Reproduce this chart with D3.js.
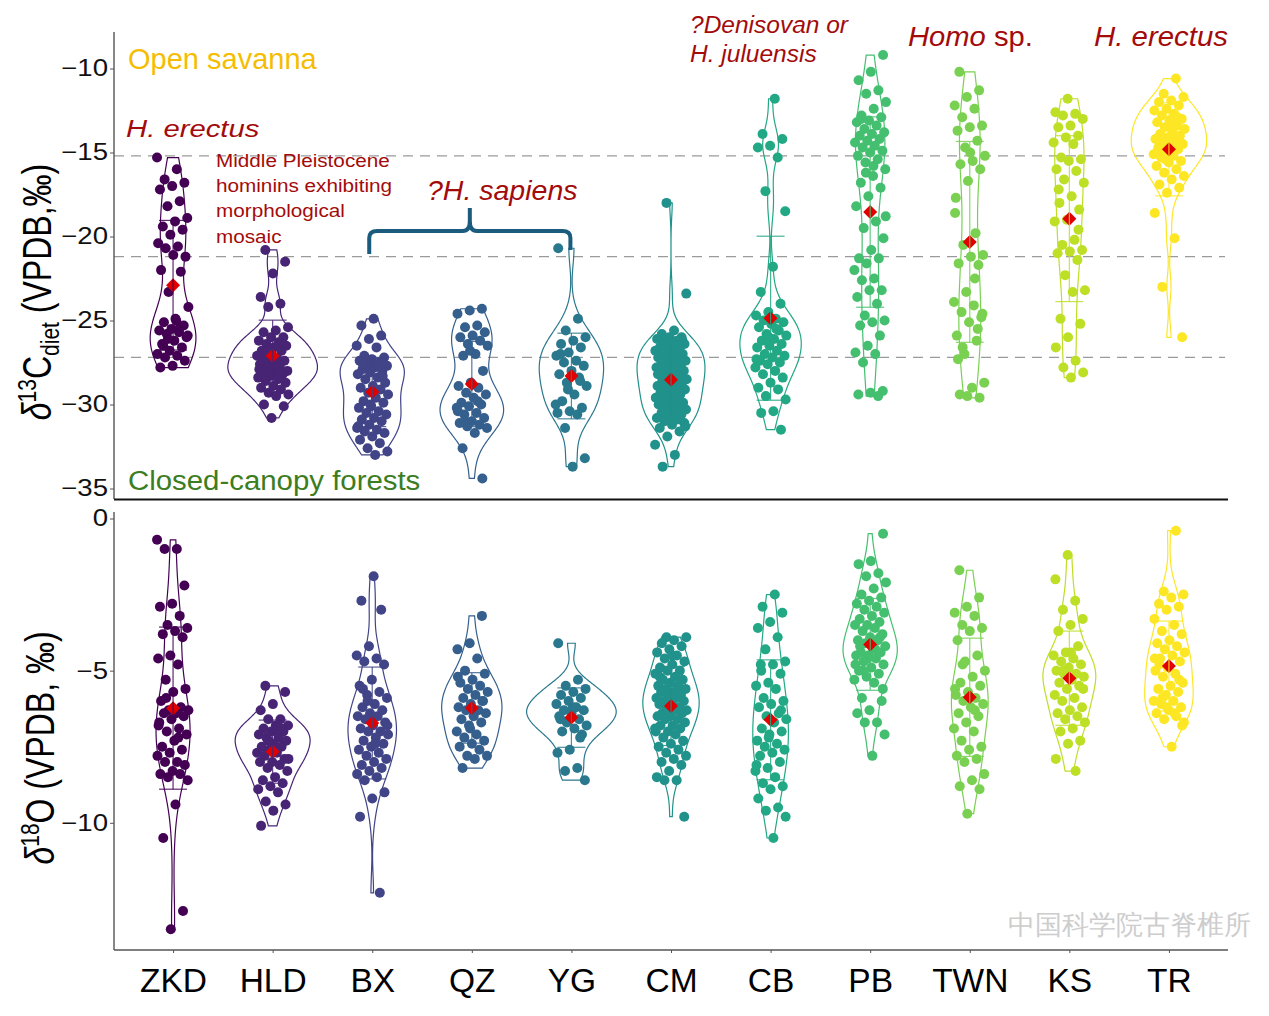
<!DOCTYPE html>
<html>
<head>
<meta charset="utf-8">
<script src="https://cdn.jsdelivr.net/npm/d3@7"></script>
<style>
  body { margin: 0; background: #fff; }
  text { font-family: "Liberation Sans", Arial, sans-serif; }
</style>
</head>
<body>
<svg id="chart" width="1269" height="1016"></svg>
<script>
const sites = ["ZKD", "HLD", "BX", "QZ", "YG", "CM", "CB", "PB", "TWN", "KS", "TR"];

// d13C diet values (per mil)
const c13ZKD = [-15.3,-16.0,-16.6,-16.8,-17.0,-17.2,-17.9,-18.2,-18.9,-19.1,-19.4,-19.6,-19.9,-20.4,-20.6,-20.7,-21.2,-21.1,-22.0,-22.1,-23.3,-24.2,-25.0,-25.1,-25.3,-25.5,-25.6,-25.7,-25.8,-26.0,-26.2,-26.4,-26.6,-26.8,-27.0,-27.1,-27.2,-27.4,-27.7,-27.8,-25.4,-26.1,-25.9,-24.9,-26.5];
const c13HLD = [-20.8,-21.5,-22.2,-23.6,-24.0,-24.2,-25.4,-25.6,-25.7,-26.0,-26.0,-26.2,-26.3,-26.4,-26.5,-26.6,-26.8,-26.8,-27.0,-27.1,-27.2,-27.3,-27.4,-27.5,-27.6,-27.7,-27.8,-28.0,-28.0,-28.1,-28.2,-28.3,-28.4,-28.5,-28.6,-28.7,-28.9,-29.0,-29.1,-29.3,-29.4,-29.5,-30.0,-30.1,-30.8,-27.9,-28.1,-26.9];
const c13BX = [-24.9,-25.3,-25.9,-26.1,-26.5,-26.6,-27.1,-27.2,-27.3,-27.4,-27.5,-27.6,-27.7,-27.8,-27.9,-28.0,-28.1,-28.2,-28.4,-28.5,-28.7,-28.9,-29.0,-29.1,-29.3,-29.4,-29.6,-29.8,-29.9,-30.1,-30.2,-30.4,-30.5,-30.6,-30.8,-30.9,-31.0,-31.2,-31.4,-31.5,-31.6,-31.7,-31.9,-32.1,-32.3,-32.6,-32.8,-33.0,-27.6,-28.3,-30.0,-31.3];
const c13QZ = [-24.3,-24.4,-24.6,-25.3,-25.4,-25.7,-25.9,-26.0,-26.2,-26.4,-26.5,-27.0,-27.1,-28.0,-28.7,-28.9,-29.0,-29.3,-29.4,-29.6,-29.9,-30.0,-30.1,-30.2,-30.5,-30.6,-30.8,-31.0,-31.1,-31.2,-31.3,-31.4,-31.7,-32.6,-34.4,-26.8,-30.4,-29.8,-31.0];
const c13YG = [-20.7,-24.9,-25.6,-26.0,-26.2,-26.4,-26.6,-26.9,-27.1,-27.4,-27.5,-27.7,-28.0,-28.2,-28.4,-28.7,-28.9,-29.4,-29.8,-30.2,-30.4,-30.5,-30.6,-31.4,-33.2,-33.7,-27.0,-28.6,-29.1,-30.0];
const c13CM = [-18.0,-23.4,-25.6,-25.8,-26.0,-26.0,-26.1,-26.2,-26.3,-26.4,-26.5,-26.6,-26.6,-26.7,-26.8,-26.9,-27.0,-27.0,-27.1,-27.2,-27.3,-27.3,-27.4,-27.5,-27.6,-27.7,-27.7,-27.8,-27.9,-28.0,-28.0,-28.1,-28.2,-28.3,-28.4,-28.5,-28.5,-28.6,-28.7,-28.8,-28.9,-29.0,-29.0,-29.1,-29.2,-29.3,-29.4,-29.5,-29.6,-29.7,-29.8,-29.9,-30.0,-30.0,-30.1,-30.2,-30.3,-30.4,-30.5,-30.6,-30.7,-30.8,-30.9,-31.0,-31.1,-31.2,-31.4,-31.6,-31.9,-32.4,-33.0,-33.7,-26.2,-27.5,-28.2,-29.3,-30.4,-31.3];
const c13CB = [-11.8,-13.9,-14.2,-14.6,-14.7,-15.3,-17.3,-18.5,-21.8,-23.3,-24.0,-24.5,-24.7,-24.9,-25.0,-25.1,-25.2,-25.4,-25.6,-25.8,-25.9,-26.1,-26.2,-26.4,-26.5,-26.6,-26.8,-27.0,-27.1,-27.2,-27.4,-27.5,-27.6,-27.8,-28.0,-28.2,-28.4,-28.7,-29.0,-29.1,-29.5,-29.7,-30.4,-30.5,-31.5,-26.0,-27.3,-25.5];
const c13PB = [-9.2,-10.2,-10.7,-11.3,-11.5,-12.0,-12.4,-12.8,-12.9,-13.1,-13.2,-13.4,-13.6,-13.8,-13.9,-14.0,-14.2,-14.3,-14.4,-14.6,-14.7,-14.9,-15.0,-15.2,-15.4,-15.6,-16.0,-16.4,-16.8,-17.1,-17.6,-18.2,-19.1,-19.5,-20.1,-20.8,-21.3,-21.3,-21.6,-22.0,-22.5,-22.6,-23.2,-23.2,-23.6,-24.0,-24.7,-25.0,-25.1,-25.3,-25.9,-26.5,-26.9,-27.0,-27.5,-29.2,-29.3,-29.4,-29.5,-16.2,-18.8,-15.8,-13.0];
const c13TWN = [-10.2,-11.3,-11.7,-12.2,-12.4,-12.9,-13.4,-13.5,-13.7,-14.3,-14.7,-15.2,-15.5,-15.7,-16.0,-16.7,-17.7,-19.8,-20.5,-21.1,-21.2,-21.6,-21.7,-23.3,-23.9,-24.1,-24.5,-24.8,-25.1,-25.9,-26.2,-27.0,-28.7,-29.0,-29.4,-29.6,-29.5,-18.6,-22.5,-26.6,-24.6,-15.0,-27.3,-25.5];
const c13KS = [-11.8,-12.6,-12.7,-12.8,-13.0,-13.4,-13.5,-14.0,-14.1,-14.4,-14.5,-15.3,-15.4,-15.5,-16.0,-16.1,-16.6,-16.8,-17.6,-18.0,-18.4,-19.0,-19.1,-20.2,-20.5,-20.8,-20.9,-21.0,-21.4,-22.3,-23.2,-23.3,-24.9,-25.2,-26.0,-26.6,-27.4,-27.8,-28.1,-28.4,-17.2,-19.6];
const c13TR = [-10.6,-11.5,-11.7,-11.9,-12.0,-12.2,-12.4,-12.5,-12.7,-12.8,-13.0,-13.1,-13.2,-13.4,-13.5,-13.6,-13.8,-13.9,-14.0,-14.1,-14.2,-14.3,-14.4,-14.5,-14.6,-14.7,-14.8,-15.0,-15.1,-15.2,-15.3,-15.5,-15.6,-15.8,-16.0,-16.2,-16.4,-16.6,-16.9,-17.1,-17.4,-18.6,-20.1,-23.0,-26.0,-13.3,-14.9,-12.9,-15.4];

// d18O values (per mil)
const o18ZKD = [-0.7,-1.0,-1.0,-2.2,-2.8,-2.9,-3.2,-3.5,-3.6,-3.7,-3.8,-3.9,-4.5,-4.6,-4.8,-5.3,-5.6,-5.7,-6.0,-6.2,-6.3,-6.3,-6.4,-6.4,-6.5,-6.6,-6.7,-6.9,-7.0,-7.1,-7.3,-7.5,-7.6,-7.7,-7.8,-8.0,-8.0,-8.1,-8.3,-8.4,-8.4,-8.5,-8.6,-9.4,-10.5,-12.9,-13.5,-6.8,-7.2,-5.9];
const o18HLD = [-5.5,-5.7,-6.1,-6.3,-6.6,-6.6,-6.8,-6.8,-6.9,-7.0,-7.0,-7.1,-7.2,-7.2,-7.3,-7.4,-7.5,-7.5,-7.6,-7.7,-7.7,-7.8,-7.9,-8.0,-8.0,-8.1,-8.2,-8.3,-8.5,-8.6,-8.7,-8.8,-8.9,-9.0,-9.3,-9.4,-9.6,-10.1,-6.9,-7.3,-7.9,-7.0];
const o18BX = [-1.9,-2.7,-3.0,-4.2,-4.5,-4.6,-4.7,-4.8,-5.3,-5.5,-5.7,-5.8,-5.9,-6.1,-6.2,-6.3,-6.4,-6.5,-6.5,-6.6,-6.7,-6.8,-6.9,-7.0,-7.0,-7.1,-7.2,-7.3,-7.4,-7.5,-7.6,-7.7,-7.8,-7.9,-8.0,-8.1,-8.2,-8.3,-8.4,-8.5,-8.6,-9.0,-9.2,-9.8,-12.3,-6.0,-6.8,-7.4,-5.6];
const o18QZ = [-3.2,-4.1,-4.3,-4.6,-5.0,-5.1,-5.3,-5.4,-5.5,-5.6,-5.7,-5.8,-5.9,-6.0,-6.1,-6.2,-6.3,-6.3,-6.4,-6.5,-6.6,-6.7,-6.8,-7.0,-7.1,-7.2,-7.3,-7.4,-7.5,-7.6,-7.8,-7.8,-7.9,-8.2,-6.0,-6.9,-5.2];
const o18YG = [-4.1,-5.3,-5.5,-5.6,-5.7,-5.8,-5.9,-6.0,-6.1,-6.2,-6.3,-6.3,-6.4,-6.5,-6.6,-6.7,-6.8,-6.9,-7.0,-7.1,-7.6,-7.7,-8.2,-8.3,-8.6,-6.2,-6.6,-7.2];
const o18CM = [-3.9,-3.9,-4.0,-4.1,-4.2,-4.3,-4.4,-4.5,-4.6,-4.7,-4.8,-4.9,-5.0,-5.0,-5.1,-5.2,-5.3,-5.3,-5.4,-5.5,-5.5,-5.6,-5.6,-5.7,-5.7,-5.8,-5.8,-5.9,-5.9,-6.0,-6.0,-6.1,-6.1,-6.2,-6.2,-6.3,-6.3,-6.4,-6.4,-6.5,-6.5,-6.6,-6.6,-6.7,-6.8,-6.8,-6.9,-7.0,-7.0,-7.1,-7.2,-7.3,-7.4,-7.5,-7.6,-7.7,-7.8,-7.9,-8.0,-8.1,-8.3,-8.5,-8.6,-8.6,-9.8,-4.5,-5.2,-5.8,-6.3,-6.9];
const o18CB = [-2.5,-2.9,-3.1,-3.4,-3.6,-3.9,-4.3,-4.7,-4.8,-4.8,-5.1,-5.4,-5.5,-5.6,-5.9,-6.0,-6.1,-6.2,-6.4,-6.5,-6.6,-6.7,-6.9,-7.0,-7.1,-7.3,-7.4,-7.5,-7.6,-7.7,-7.8,-8.0,-8.2,-8.3,-8.5,-8.7,-8.8,-8.9,-9.2,-9.5,-9.6,-9.8,-10.5,-5.0,-6.3,-7.2,-8.1];
const o18PB = [-0.5,-1.4,-1.5,-1.8,-1.9,-2.1,-2.3,-2.5,-2.6,-2.7,-2.8,-2.9,-3.0,-3.1,-3.2,-3.3,-3.4,-3.5,-3.5,-3.6,-3.7,-3.8,-3.9,-4.0,-4.0,-4.1,-4.2,-4.3,-4.4,-4.4,-4.5,-4.5,-4.6,-4.7,-4.8,-4.9,-5.0,-5.1,-5.2,-5.3,-5.4,-5.9,-6.0,-6.3,-6.4,-6.7,-6.7,-7.1,-7.8,-4.2,-3.9,-4.6,-4.8,-4.3,-5.0,-5.6];
const o18TWN = [-1.7,-2.6,-2.9,-3.1,-3.2,-3.5,-3.6,-3.7,-4.0,-4.5,-4.7,-5.0,-5.2,-5.4,-5.5,-5.7,-5.8,-5.9,-6.0,-6.1,-6.2,-6.4,-6.5,-6.7,-6.9,-7.0,-7.3,-7.5,-7.6,-7.8,-7.9,-8.0,-8.4,-8.6,-8.8,-8.9,-9.7,-5.6,-6.3,-4.8];
const o18KS = [-1.2,-2.0,-2.7,-3.0,-3.3,-3.5,-3.7,-4.2,-4.4,-4.5,-4.6,-4.7,-4.8,-4.9,-5.0,-5.1,-5.1,-5.2,-5.3,-5.4,-5.5,-5.6,-5.8,-5.9,-6.0,-6.2,-6.3,-6.4,-6.5,-6.6,-6.7,-6.9,-7.0,-7.3,-7.4,-7.9,-8.3,-5.0,-5.6,-4.4];
const o18TR = [-0.4,-2.4,-2.5,-2.6,-2.8,-2.9,-3.0,-3.3,-3.5,-3.7,-3.8,-4.0,-4.1,-4.2,-4.3,-4.4,-4.5,-4.6,-4.7,-4.9,-5.0,-5.1,-5.2,-5.4,-5.5,-5.6,-5.7,-5.8,-6.0,-6.0,-6.1,-6.2,-6.3,-6.4,-6.5,-6.6,-6.7,-7.5,-4.8,-5.3,-6.2,-4.6,-6.4,-5.9,-6.8];

const carbon = [c13ZKD, c13HLD, c13BX, c13QZ, c13YG, c13CM, c13CB, c13PB, c13TWN, c13KS, c13TR];
const oxygen = [o18ZKD, o18HLD, o18BX, o18QZ, o18YG, o18CM, o18CB, o18PB, o18TWN, o18KS, o18TR];

const carbonTicks = [-10, -15, -20, -25, -30, -35];
const oxygenTicks = [0, -5, -10];
const habitatLines = [-15.2, -21.2, -27.2];

const svg = d3.select("#chart");
const RED = "#a30b0b";

const x = d3.scalePoint().domain(sites).range([114, 1228]).padding(0.593);
const color = d3.scaleOrdinal()
  .domain(sites)
  .range(sites.map((s, i) => d3.interpolateViridis(i / (sites.length - 1))));

const yTop = d3.scaleLinear().domain([-10, -35]).range([68.5, 488.5]);
const yBot = d3.scaleLinear().domain([0, -10]).range([518.5, 822.8]);

// deterministic horizontal jitter
const jit = (i, k) => ((((i * 0.6180339887) + k * 0.2718) % 1) - 0.5) * 2 * 16;

function bwNrd0(v) {
  const s = d3.deviation(v);
  const q = (d3.quantile(v, 0.75) - d3.quantile(v, 0.25)) / 1.34;
  return 0.9 * Math.min(s, q) * Math.pow(v.length, -0.2);
}

function density(v) {
  const bw = bwNrd0(v);
  const [lo, hi] = d3.extent(v);
  return d3.range(0, 121).map(i => {
    const t = lo + (hi - lo) * i / 120;
    const d = d3.mean(v, a => Math.exp(-0.5 * ((t - a) / bw) ** 2)) / (bw * Math.sqrt(2 * Math.PI));
    return [t, d];
  });
}

function drawPanel(series, y) {
  const dens = series.map(density);
  const maxD = d3.max(dens, d => d3.max(d, p => p[1]));
  const w = d3.scaleLinear().domain([0, maxD]).range([0, 0.45 * x.step()]);
  const g = svg.append("g");

  series.forEach((vals, k) => {
    const site = sites[k];
    const cx = x(site);
    const col = color(site);

    g.append("path")
      .datum(dens[k])
      .attr("d", d3.area()
        .x0(p => cx - w(p[1]))
        .x1(p => cx + w(p[1]))
        .y(p => y(p[0]))
        .curve(d3.curveBasis))
      .attr("fill", "none")
      .attr("stroke", col)
      .attr("stroke-width", 1.2);

    g.append("g").selectAll("circle")
      .data(vals)
      .join("circle")
      .attr("cx", (v, i) => cx + jit(i, k))
      .attr("cy", v => y(v))
      .attr("r", 5)
      .attr("fill", col);

    const m = d3.mean(vals), s = d3.deviation(vals);
    g.append("path")
      .attr("d", `M${cx - 7},${y(m)}L${cx},${y(m) - 7}L${cx + 7},${y(m)}L${cx},${y(m) + 7}Z`)
      .attr("fill", "#e00000");

    const eb = g.append("g").attr("stroke", col).attr("stroke-width", 1.2).attr("stroke-opacity", 0.85);
    eb.append("line").attr("x1", cx).attr("x2", cx).attr("y1", y(m + s)).attr("y2", y(m - s));
    [m + s, m - s].forEach(v => {
      eb.append("line").attr("x1", cx - 14).attr("x2", cx + 14).attr("y1", y(v)).attr("y2", y(v));
    });
  });
}

// dashed habitat boundaries (upper panel)
svg.append("g").selectAll("line")
  .data(habitatLines)
  .join("line")
  .attr("x1", 114).attr("x2", 1225)
  .attr("y1", d => yTop(d)).attr("y2", d => yTop(d))
  .attr("stroke", "#9a9a9a")
  .attr("stroke-width", 1.3)
  .attr("stroke-dasharray", "10,7");

drawPanel(carbon, yTop);
drawPanel(oxygen, yBot);

// axes
const SX = 1.2;
function yAxis(scale, ticks, x0, yTopPx, yBotPx) {
  const g = svg.append("g").attr("transform", `translate(${x0},0)`)
    .call(d3.axisLeft(scale).tickValues(ticks).tickSize(4).tickFormat(d3.format("d")));
  g.select(".domain").remove();
  g.selectAll(".tick line").attr("stroke", "#555");
  g.selectAll(".tick text")
    .attr("font-size", 23)
    .attr("font-family", "Liberation Sans, Arial, sans-serif")
    .attr("fill", "#111")
    .attr("x", -6 / SX)
    .attr("transform", `scale(${SX},1)`);
  svg.append("line").attr("x1", x0).attr("x2", x0).attr("y1", yTopPx).attr("y2", yBotPx)
    .attr("stroke", "#555").attr("stroke-width", 1.4);
}
yAxis(yTop, carbonTicks, 114, 32, 499);
yAxis(yBot, oxygenTicks, 114, 512, 950);

svg.append("line").attr("x1", 114).attr("x2", 1228).attr("y1", 499.5).attr("y2", 499.5)
  .attr("stroke", "#111").attr("stroke-width", 1.8);

const xg = svg.append("g").attr("transform", "translate(0,950)")
  .call(d3.axisBottom(x).tickSize(3));
xg.select(".domain").remove();
xg.selectAll(".tick line").attr("stroke", "#555");
xg.selectAll(".tick text")
  .attr("font-size", 33.5)
  .attr("font-family", "Liberation Sans, Arial, sans-serif")
  .attr("fill", "#000")
  .attr("y", 18);
svg.append("line").attr("x1", 114).attr("x2", 1228).attr("y1", 950).attr("y2", 950)
  .attr("stroke", "#555").attr("stroke-width", 1.4);

// axis titles
const t1 = svg.append("text")
  .attr("transform", "translate(51,292) scale(1.25,1) rotate(-90)")
  .attr("text-anchor", "middle").attr("font-size", 32).attr("fill", "#000");
t1.append("tspan").attr("font-style", "italic").text("δ");
t1.append("tspan").attr("font-size", 21).attr("dy", -12).text("13");
t1.append("tspan").attr("dy", 12).text("C");
t1.append("tspan").attr("font-size", 21).attr("dy", 6).text("diet");
t1.append("tspan").attr("dy", -6).text(" (VPDB,‰)");

const t2 = svg.append("text")
  .attr("transform", "translate(54,748) scale(1.25,1) rotate(-90)")
  .attr("text-anchor", "middle").attr("font-size", 32).attr("fill", "#000");
t2.append("tspan").attr("font-style", "italic").text("δ");
t2.append("tspan").attr("font-size", 21).attr("dy", -12).text("18");
t2.append("tspan").attr("dy", 12).text("O (VPDB, ‰)");

// annotations
function label(str, x0, y0, size, fill, opts = {}) {
  const sx = opts.sx || 1;
  return svg.append("text")
    .attr("transform", `translate(${x0},${y0}) scale(${sx},1)`)
    .attr("font-size", size)
    .attr("font-style", opts.italic ? "italic" : "normal")
    .attr("fill", fill)
    .text(str);
}
label("Open savanna", 128, 69, 29, "#f5bd02");
label("Closed-canopy forests", 128, 490, 28, "#3c7d22", { sx: 1.05 });
label("H. erectus", 126, 137, 24, RED, { italic: true, sx: 1.22 });
["Middle Pleistocene", "hominins exhibiting", "morphological", "mosaic"].forEach((s, i) => {
  label(s, 216, 166.7 + i * 25.3, 18.5, RED, { sx: 1.12 });
});
label("?H. sapiens", 427, 200, 28.5, RED, { italic: true });
label("?Denisovan or", 690, 33, 24.5, RED, { italic: true });
label("H. juluensis", 690, 62, 24.5, RED, { italic: true });
const homo = label("", 908, 46, 27, RED, { sx: 1.08 });
homo.append("tspan").attr("font-style", "italic").text("Homo");
homo.append("tspan").text(" sp.");
label("H. erectus", 1094, 46, 27, RED, { italic: true, sx: 1.09 });

// brace over the ?H. sapiens sites
const bx0 = x("BX") - 3, bx1 = x("YG") - 1, bxc = x("QZ") - 2;
svg.append("path")
  .attr("d", `M${bx0},254 V238 Q${bx0},231 ${bx0 + 8},231 H${bxc - 7} Q${bxc},231 ${bxc},221 V208 ` +
             `M${bxc},221 Q${bxc},231 ${bxc + 7},231 H${bx1 - 8} Q${bx1},231 ${bx1},238 V250`)
  .attr("fill", "none")
  .attr("stroke", "#1b5c7e")
  .attr("stroke-width", 4);

// watermark
svg.append("text")
  .attr("x", 1008).attr("y", 934)
  .attr("font-family", "Noto Sans CJK SC")
  .attr("font-weight", 300)
  .attr("font-size", 26.5)
  .attr("fill", "#cdcdcd")
  .text("中国科学院古脊椎所");
</script>
</body>
</html>
